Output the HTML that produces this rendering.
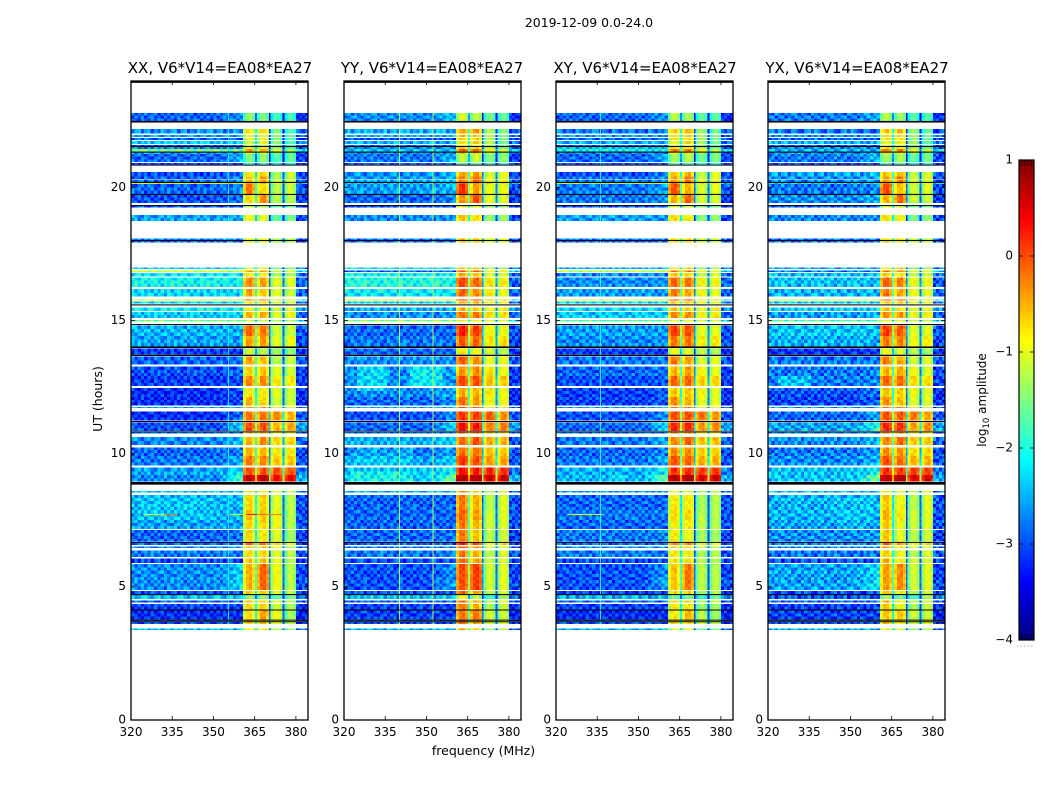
<!DOCTYPE html>
<html>
<head>
<meta charset="utf-8">
<title>2019-12-09 0.0-24.0</title>
<style>
html,body{margin:0;padding:0;background:#fff;}
svg{display:block;font-family:"DejaVu Sans","Liberation Sans",sans-serif;fill:#000;}
</style>
</head>
<body>
<svg id="figure" xmlns="http://www.w3.org/2000/svg" width="1050" height="800" viewBox="0 0 1050 800">
  <rect x="0" y="0" width="1050" height="800" fill="#fff"/>
  <text x="589" y="27" font-size="12.45" text-anchor="middle">2019-12-09 0.0-24.0</text>
  <text x="220" y="73" font-size="15" text-anchor="middle">XX, V6*V14=EA08*EA27</text>
  <text x="432" y="73" font-size="15" text-anchor="middle">YY, V6*V14=EA08*EA27</text>
  <text x="645" y="73" font-size="15" text-anchor="middle">XY, V6*V14=EA08*EA27</text>
  <text x="857" y="73" font-size="15" text-anchor="middle">YX, V6*V14=EA08*EA27</text>
  <text x="0" y="0" font-size="12.5" text-anchor="middle" transform="translate(102,399) rotate(-90)">UT (hours)</text>
  <text x="483.5" y="755" font-size="12.5" text-anchor="middle">frequency (MHz)</text>
  <text x="0" y="0" font-size="12" text-anchor="middle" transform="translate(986,400) rotate(-90)">log<tspan font-size="8.5" dy="3">10</tspan><tspan dy="-3"> amplitude</tspan></text>
  <g id="panels"></g>
  <g id="colorbar"></g>
</svg>
<script>
// Axis tick labels
const xTicks = [320, 335, 350, 365, 380];
const yTicks = [0, 5, 10, 15, 20];
const colorbarTicks = [1, 0, -1, -2, -3, -4];
const panelNames = ['xx', 'yy', 'xy', 'yx'];

// Time ranges (UT hours) of the unflagged bands
const rowTop = [22.80,22.20,21.97,21.86,21.75,21.60,21.52,21.45,21.31,21.26,
  20.92,20.59,20.41,20.17,20.13,
  19.72,19.31,18.96,18.09,17.99,
  17.00,16.89,16.78,16.62,16.18,
  15.80,15.71,15.50,15.32,15.02,
  14.81,14.42,13.96,13.65,13.27,
  12.92,12.47,12.13,11.76,11.59,
  11.18,10.80,10.62,10.24,9.92,
  9.48,9.20,8.60,8.46,7.89,
  7.51,7.13,6.66,6.51,6.37,
  6.07,5.85,5.37,4.85,4.69,
  4.48,4.36,4.12,3.74,3.68,
  3.44];
const rowBottom = [22.50,22.03,21.90,21.78,21.63,21.56,21.45,21.35,21.26,20.96,
  20.86,20.41,20.21,20.13,19.76,
  19.41,19.24,18.74,18.03,17.93,
  16.93,16.83,16.66,16.27,15.90,
  15.75,15.64,15.37,15.09,14.97,
  14.42,14.03,13.72,13.36,12.92,
  12.54,12.13,11.82,11.72,11.24,
  10.85,10.77,10.33,9.92,9.56,
  9.20,8.95,8.54,7.89,7.51,
  7.17,6.70,6.57,6.46,6.13,
  5.90,5.37,4.89,4.73,4.54,
  4.41,4.15,3.77,3.71,3.61,
  3.38];

// log10 amplitude of the quiet band (320-361 MHz) per panel and row
const leftXX = [-2.9,-2.7,-2.6,-2.9,-2.4,-3.0,-2.7,-1.5,-2.6,-2.9,
  -3.1,-3.0,-2.9,-1.0,-2.9,
  -3.0,-3.0,-2.6,-2.7,-2.9,
  -2.3,-1.1,-2.2,-2.1,-2.3,
  -1.0,-2.3,-2.1,-2.4,-1.6,
  -2.5,-2.6,-3.1,-2.9,-3.0,
  -3.1,-3.2,-3.2,-2.6,-3.2,
  -3.0,-2.8,-2.7,-2.9,-2.8,
  -2.6,-2.7,-2.4,-2.5,-2.5,
  -2.6,-2.9,-2.9,-2.7,-2.8,
  -3.0,-2.7,-2.7,-3.0,-2.4,
  -2.9,-3.1,-3.2,-2.9,-3.0,
  -2.5];
const leftYY = [-2.7,-2.6,-2.5,-3.0,-2.5,-2.9,-2.7,-2.4,-2.7,-2.8,
  -3.0,-2.7,-2.6,-2.4,-2.6,
  -2.9,-3.0,-2.7,-2.8,-2.9,
  -2.2,-3.0,-2.1,-2.0,-2.2,
  -1.0,-2.3,-2.5,-2.7,-1.5,
  -2.9,-2.8,-2.9,-2.7,-2.7,
  -2.7,-2.7,-2.9,-2.6,-3.0,
  -2.9,-2.8,-2.5,-2.8,-2.6,
  -2.4,-2.4,-2.5,-2.9,-2.9,
  -2.9,-2.9,-2.9,-2.8,-2.8,
  -3.0,-3.0,-3.0,-3.0,-2.4,
  -2.9,-3.1,-3.1,-2.9,-3.0,
  -2.5];
const leftXY = [-2.9,-2.8,-2.6,-2.9,-2.5,-3.0,-2.4,-2.1,-2.7,-2.9,
  -3.1,-3.0,-2.8,-1.3,-2.8,
  -2.8,-3.0,-2.6,-2.8,-2.9,
  -2.5,-1.2,-2.7,-2.7,-2.6,
  -1.0,-2.3,-2.3,-2.4,-1.7,
  -2.6,-2.7,-3.1,-2.8,-2.9,
  -3.0,-3.1,-3.1,-2.6,-3.0,
  -2.9,-2.8,-2.8,-2.9,-2.8,
  -2.5,-2.5,-2.6,-2.9,-2.8,
  -2.9,-2.8,-2.9,-2.7,-2.8,
  -3.0,-3.0,-3.0,-3.1,-2.5,
  -2.9,-3.1,-3.2,-2.9,-3.0,
  -2.5];
const leftYX = [-2.8,-2.8,-2.7,-2.9,-2.5,-3.0,-2.7,-2.5,-2.6,-2.8,
  -3.1,-2.6,-2.7,-2.3,-2.8,
  -2.7,-3.0,-2.7,-2.8,-2.9,
  -2.6,-2.8,-2.5,-2.4,-2.5,
  -1.1,-2.4,-2.3,-2.6,-1.8,
  -2.4,-2.5,-3.2,-2.8,-2.8,
  -2.8,-3.0,-3.1,-2.6,-2.9,
  -2.6,-2.7,-2.7,-2.8,-2.7,
  -2.4,-2.4,-2.5,-2.5,-2.5,
  -2.6,-2.7,-2.8,-2.7,-2.8,
  -3.0,-2.6,-2.6,-3.0,-3.0,
  -2.9,-3.1,-3.1,-2.9,-3.0,
  -2.5];

// log10 amplitude of the four bright sub-bands per row (XX reference)
const subOne = [-1.5,-.9,-1,-1.1,-1.2,-1.3,-1.1,-.5,-1.1,-1.6,
  -2,-.9,-.7,-.5,-.3,
  -.8,-1.3,-1.0,-1.0,-1.0,
  -1.1,-.5,-.9,-.4,-.5,
  -.3,-.9,-.9,-.6,-1.2,
  -.2,-.5,-1.2,-.5,-.8,
  -.4,-.9,-.6,-.5,-.3,
  -.1,-.6,-.6,-.6,-.3,
  -.1,.6,-.9,-.8,-.7,
  -.8,-.8,-.3,-.6,-.8,
  -.7,-.6,-.6,-.7,-1.5,
  -.7,-.8,-.8,-.6,-.7,
  -1.0];
const subTwo = [-1.6,-.8,-1,-1,-1,-1.3,-1.1,-.5,-1.1,-1.5,
  -2,-.8,-.5,-.7,-.8,
  -.4,-1.3,-1.1,-1.0,-1.0,
  -1.0,-.5,-1.0,-.5,-.7,
  -.3,-.9,-1.0,-.6,-1.2,
  -.3,-.5,-1.3,-.7,-.7,
  -.4,-.9,-.8,-.5,-.3,
  -.1,-.6,-.4,-.6,-.4,
  -.1,.7,-.9,-.8,-.7,
  -.8,-.9,-.3,-.6,-.8,
  -.7,-.2,-.2,-.7,-1.5,
  -.7,-.8,-.5,-.6,-.7,
  -1.0];
const subThree = [-1.9,-1.6,-1.5,-1.6,-1.5,-1.6,-1.5,-1.1,-1.5,-1.8,
  -2.2,-1.4,-1.3,-1.0,-1.3,
  -1.3,-1.7,-1.7,-1.3,-1.3,
  -1.6,-1.2,-1.4,-1.1,-1.1,
  -.9,-1.2,-1.2,-1.1,-1.3,
  -1.2,-1.1,-1.4,-1.3,-1.1,
  -.9,-1.1,-1.2,-1.1,-.4,
  -.6,-1,-.8,-.9,-.7,
  -.1,.3,-1.1,-1.1,-1.0,
  -1.0,-1.1,-.8,-1,-1.1,
  -1.0,-1,-1,-1.1,-1.7,
  -1.1,-1.2,-1,-1,-1,
  -1.3];
const subFour = [-2,-1.9,-1.9,-1.9,-1.9,-2,-1.9,-1.4,-1.9,-1.8,
  -2.3,-1.3,-1.3,-1.1,-1.3,
  -1.4,-1.8,-1.7,-1.4,-1.4,
  -1.6,-1.2,-1.4,-1.2,-1.3,
  -1.0,-1.3,-1.2,-1.1,-1.4,
  -1.3,-1.1,-1.6,-1.3,-1.3,
  -1.0,-1.3,-1.3,-1.2,-.7,
  -.6,-1.1,-.9,-1,-.8,
  -.2,.3,-1.3,-1.4,-1.4,
  -1.4,-1.5,-1.1,-1.4,-1.4,
  -1.4,-1.4,-1.4,-1.4,-1.7,
  -1.4,-1.5,-1.5,-1.4,-1.4,
  -1.6];

// log10 amplitude above 380 MHz per row
const rightLevel = [-3.2,-3.0,-2.9,-3.1,-2.8,-3.1,-3.0,-2.2,-3.0,-3.1,
  -3.2,-3.0,-3.0,-2.4,-3.0,
  -3.1,-3.2,-3.1,-3.0,-3.1,
  -2.8,-2.4,-2.9,-2.9,-2.9,
  -2.2,-2.9,-2.7,-2.9,-2.4,
  -3.0,-3.0,-3.2,-3.0,-3.1,
  -3.1,-3.2,-3.2,-3.0,-3.0,
  -2.6,-3.0,-2.9,-3.0,-3.0,
  -2.8,-2.5,-2.9,-3.0,-3.0,
  -3.0,-3.1,-3.1,-3.0,-3.0,
  -3.1,-3.1,-3.0,-3.2,-2.8,
  -3.1,-3.2,-3.3,-3.2,-3.2,
  -2.9];

// Extra brightness just below the bright band, per row
const edgeBoost = [.3,0,0,0,0,0,0,0,0,.4,
  0,.2,.2,0,.2,
  .2,0,0,0,0,
  0,0,0,0,0,
  0,0,0,.1,0,
  0,0,0,0,.1,
  .1,.2,.2,0,.4,
  .7,0,.3,.2,.3,
  .4,1.0,0,0,0,
  0,.1,0,0,0,
  0,.4,.5,0,0,
  0,0,0,0,0,
  0];

// Sub-band level change relative to XX, per panel: above and below the 8.8 UT break
const subOffsetUpper = [[0,0,0,.1],[.35,.3,.25,.3],[.2,.2,.15,.25],[.2,.15,.1,.2]];
const subOffsetLower = [[0,0,0,.1],[.5,.2,-.2,.3],[-.1,-.1,-.3,.1],[.1,-.2,-.2,.3]];
const breakUT = 8.8;

// Level shape across the channels of one sub-band
const subProfile = [-.3, .1, .15, -.15];

// Notch depth between sub-bands (log10)
const notchDepth = [1.3, 2.0, 1.7];
const zoneEdges = [320, 360.7, 365.1, 365.8, 370.2, 370.8, 375.2, 375.9, 380.1, 384.4];

// Persistent interference channels per panel
const channelFreq = [[355.3], [340.1, 352.2], [336.0], []];
const channelLevel = [[-2.2], [-1.35, -1.25], [-2.1], []];

// Brighter broad patches in the quiet band
const patchPanel = [1, 1, 1, 1, 3, 3, 0, 2];
const patchFreqLow = [325, 344, 322, 322, 323, 345, 322, 340];
const patchFreqHigh = [336, 356, 345, 345, 336, 358, 350, 345];
const patchTop = [13.3, 13.3, 10.2, 9.4, 12.9, 8.3, 8.4, 9.2];
const patchBottom = [12.4, 12.5, 9.6, 8.95, 12.5, 7.2, 7.5, 8.95];
const patchDelta = [.4, .5, .2, .3, .4, .1, .1, .2];

// Narrow horizontal interference streaks at 7.72 UT
const streakPanel = [0, 0, 0, 0, 0, 2];
const streakFreqLow = [324.4, 332, 356, 362, 366, 324.4];
const streakFreqHigh = [332, 337, 361, 366, 375, 337];
const streakLevel = [-1.1, -.2, -1.1, .3, -.3, -1.1];
const streakUT = [7.72, 7.72, 7.72, 7.72, 7.72, 7.72];

// Fully saturated black time samples
const blackTop = [24.0,22.50,21.56,21.35,20.86,20.21,19.76,19.34,18.03,15.61,14.87,14.03,13.72,11.23,10.84,8.94,6.69,4.73,4.15,3.77,3.71];
const blackBottom = [23.93,22.44,21.52,21.31,20.83,20.17,19.72,19.31,17.99,15.57,14.84,13.97,13.67,11.19,10.80,8.84,6.66,4.69,4.12,3.74,3.68];

// Speckle deviations of the spectrogram texture
const speckle = [
  [.2,-.3,.1,-.1,.35,-.2,0,.25,-.35,.1,-.15],
  [-.25,.3,-.1,.2,-.3,.1,.3,-.2,.05,-.3,.2],
  [.1,-.05,-.35,.3,.05,-.25,.15,-.1,.3,.2,-.3],
  [-.15,.2,.3,-.3,.1,.25,-.35,.05,-.2,.3,.05],
  [.3,-.2,.05,.15,-.25,-.1,.2,.35,-.05,-.3,.1],
  [-.3,.1,.25,-.2,.3,.05,-.15,-.3,.2,.1,-.2],
  [.05,.3,-.25,.1,-.1,.35,-.3,.1,.25,-.15,.3]
];
const panelSpeckleGain = [1.15, 1.15, 1.15, 1.3];
const leftLevels = [leftXX, leftYY, leftXY, leftYX];
const subLevels = [subOne, subTwo, subThree, subFour];

const NS = 'http://www.w3.org/2000/svg';
const panelLeft = [131, 344, 556, 768];
const panelWidth = 177;
const plotTop = 81;
const plotBottom = 720;
const freqMin = 320;
const freqMax = 384.4;
const utMax = 24;
const cbarX = 1019;
const cbarW = 15;
const cbarTop = 160;
const cbarBottom = 640;

function xScale(panel, f) { return panelLeft[panel] + (f - freqMin) / (freqMax - freqMin) * panelWidth; }
function yScale(ut) { return plotBottom - ut / utMax * (plotBottom - plotTop); }
function cbarY(v) { return cbarBottom - (v + 4) / 5 * (cbarBottom - cbarTop); }
function clamp01(x) { return Math.max(0, Math.min(1, x)); }
function jet(v) {
  const t = clamp01((v + 4) / 5);
  const r = clamp01(1.5 - Math.abs(4 * t - 3));
  const g = clamp01(1.5 - Math.abs(4 * t - 2));
  const b = clamp01(1.5 - Math.abs(4 * t - 1));
  return 'rgb(' + Math.round(r * 255) + ',' + Math.round(g * 255) + ',' + Math.round(b * 255) + ')';
}
function make(tag, attrs, parent) {
  const el = document.createElementNS(NS, tag);
  for (const k in attrs) el.setAttribute(k, attrs[k]);
  parent.appendChild(el);
  return el;
}
function buildColumns() {
  const cols = [];
  for (let z = 0; z < zoneEdges.length - 1; z++) {
    const a = zoneEdges[z], b = zoneEdges[z + 1];
    const n = Math.max(1, Math.round((b - a) / 1.2));
    for (let i = 0; i < n; i++) cols.push({ zone: z, f0: a + (b - a) * i / n, f1: a + (b - a) * (i + 1) / n, pos: i });
  }
  return cols;
}
const columns = buildColumns();

function zoneLevel(panel, row, zone, f, ut, pos) {
  const off = ut > breakUT ? subOffsetUpper[panel] : subOffsetLower[panel];
  const sub = i => subLevels[i][row] + off[i];
  const shape = subProfile[pos % subProfile.length];
  if (zone === 0) {
    let v = leftLevels[panel][row];
    if (f > 352) v += edgeBoost[row] * (f - 352) / 9;
    for (let i = 0; i < patchPanel.length; i++) {
      if (patchPanel[i] === panel && f >= patchFreqLow[i] && f <= patchFreqHigh[i] && ut <= patchTop[i] && ut >= patchBottom[i]) v += patchDelta[i];
    }
    return v;
  }
  if (zone === 1) return sub(0) + shape;
  if (zone === 2) return (sub(0) + sub(1)) / 2 - notchDepth[0];
  if (zone === 3) return sub(1) + shape;
  if (zone === 4) return (sub(1) + sub(2)) / 2 - notchDepth[1];
  if (zone === 5) return sub(2) + shape;
  if (zone === 6) return (sub(2) + sub(3)) / 2 - notchDepth[2];
  if (zone === 7) return sub(3) + shape;
  return rightLevel[row];
}

const rootPanels = document.getElementById('panels');
const utStep = 0.12;

for (let p = 0; p < panelLeft.length; p++) {
  const g = make('g', {}, rootPanels);
  
  

  const cells = make('g', { 'shape-rendering': 'crispEdges' }, g);
  
  

  let sliceIndex = 0;
  for (let r = 0; r < rowTop.length; r++) {
    const span = rowTop[r] - rowBottom[r];
    const n = Math.max(1, Math.round(span / utStep));
    for (let s = 0; s < n; s++) {
      const t0 = rowTop[r] - span * s / n;
      const t1 = rowTop[r] - span * (s + 1) / n;
      const tileRow = speckle[(sliceIndex + p * 3) % speckle.length];
      const tileShift = Math.floor(sliceIndex / speckle.length) * 5 + p * 4;
      sliceIndex++;
      columns.forEach(function (c, ci) {
        const fMid = (c.f0 + c.f1) / 2;
        const tex = tileRow[(ci + tileShift) % tileRow.length] * panelSpeckleGain[p] * (c.zone === 0 || c.zone === 8 ? 1 : 0.3);
        const level = zoneLevel(p, r, c.zone, fMid, (t0 + t1) / 2, c.pos) + tex;
        const cell = make('rect', {
          x: xScale(p, c.f0).toFixed(2),
          y: yScale(t0).toFixed(2),
          width: (xScale(p, c.f1) - xScale(p, c.f0) + 0.1).toFixed(2),
          height: (yScale(t1) - yScale(t0)).toFixed(2),
          fill: jet(Math.min(level, 0.75))
        }, cells);
        
        
      });
    }
    channelFreq[p].forEach(function (f, i) {
      const line = make('rect', {
        x: xScale(p, f).toFixed(2),
        y: yScale(rowTop[r]).toFixed(2),
        width: 1,
        height: (yScale(rowBottom[r]) - yScale(rowTop[r])).toFixed(2),
        fill: jet(channelLevel[p][i])
      }, cells);
      
      
    });
  }

  streakPanel.forEach(function (sp, i) {
    if (sp !== p) return;
    const streak = make('rect', {
      x: xScale(p, streakFreqLow[i]).toFixed(2),
      y: (yScale(streakUT[i]) - 0.5).toFixed(2),
      width: (xScale(p, streakFreqHigh[i]) - xScale(p, streakFreqLow[i])).toFixed(2),
      height: 1,
      fill: jet(streakLevel[i])
    }, g);
    
    
  });

  blackTop.forEach(function (t, i) {
    const band = make('rect', {
      x: panelLeft[p],
      y: yScale(t).toFixed(2),
      width: panelWidth,
      height: Math.max(1, yScale(blackBottom[i]) - yScale(t)).toFixed(2),
      fill: '#000'
    }, g);
    
    
  });

  yTicks.forEach(function (tick) {
    const y = yScale(tick);
    const left = make('line', { x1: panelLeft[p], x2: panelLeft[p] + 4, y1: y, y2: y, stroke: '#000', 'stroke-width': 0.8 }, g);
    
    
    const right = make('line', { x1: panelLeft[p] + panelWidth - 4, x2: panelLeft[p] + panelWidth, y1: y, y2: y, stroke: '#000', 'stroke-width': 0.8 }, g);
    
    
    const label = make('text', { x: panelLeft[p] - 5, y: y + 3.3, 'font-size': 12, 'text-anchor': 'end' }, g);
    label.textContent = String(tick);
    
    
  });

  xTicks.forEach(function (tick) {
    const x = xScale(p, tick);
    const bottom = make('line', { x1: x, x2: x, y1: plotBottom - 4, y2: plotBottom, stroke: '#000', 'stroke-width': 0.8 }, g);
    
    
    const top = make('line', { x1: x, x2: x, y1: plotTop, y2: plotTop + 4, stroke: '#000', 'stroke-width': 0.8 }, g);
    
    
    const label = make('text', { x: x, y: plotBottom + 16, 'font-size': 12, 'text-anchor': 'middle' }, g);
    label.textContent = String(tick);
    
    
  });

  const spine = make('rect', { x: panelLeft[p], y: plotTop, width: panelWidth, height: plotBottom - plotTop, fill: 'none', stroke: '#000', 'stroke-width': 1.3 }, g);
  
  
}

// Colorbar
const cbRoot = document.getElementById('colorbar');
const cbSteps = 200;
for (let i = 0; i < cbSteps; i++) {
  const v0 = -4 + 5 * i / cbSteps;
  const v1 = -4 + 5 * (i + 1) / cbSteps;
  const swatch = make('rect', {
    x: cbarX,
    y: cbarY(v1).toFixed(2),
    width: cbarW,
    height: (cbarY(v0) - cbarY(v1) + 0.4).toFixed(2),
    fill: jet((v0 + v1) / 2)
  }, cbRoot);
  
  
}
colorbarTicks.forEach(function (tick) {
  const y = cbarY(tick);
  const a = make('line', { x1: cbarX, x2: cbarX + 4, y1: y, y2: y, stroke: '#000', 'stroke-width': 0.8 }, cbRoot);
  
  
  const b = make('line', { x1: cbarX + cbarW - 4, x2: cbarX + cbarW, y1: y, y2: y, stroke: '#000', 'stroke-width': 0.8 }, cbRoot);
  
  
  const label = make('text', { x: cbarX - 6, y: y + 3.5, 'font-size': 12, 'text-anchor': 'end' }, cbRoot);
  label.textContent = String(tick).replace('-', '\u2212');
  
  
});
[3, 6, 9, 12].forEach(function (dx) {
  const t = make('line', { x1: cbarX + dx, x2: cbarX + dx, y1: cbarTop, y2: cbarTop + 6, stroke: '#000', 'stroke-width': 0.7 }, cbRoot);
  
  
  const u = make('line', { x1: cbarX + dx, x2: cbarX + dx, y1: cbarBottom - 6, y2: cbarBottom, stroke: '#000', 'stroke-width': 0.7 }, cbRoot);
  
  
});
const cbFrame = make('rect', { x: cbarX, y: cbarTop, width: cbarW, height: cbarBottom - cbarTop, fill: 'none', stroke: '#000', 'stroke-width': 1.2 }, cbRoot);


const cbDots = make('line', { x1: 1017, x2: 1035, y1: 646, y2: 646, stroke: '#888', 'stroke-width': 1, 'stroke-dasharray': '1 2.6' }, cbRoot);


</script>
</body>
</html>
